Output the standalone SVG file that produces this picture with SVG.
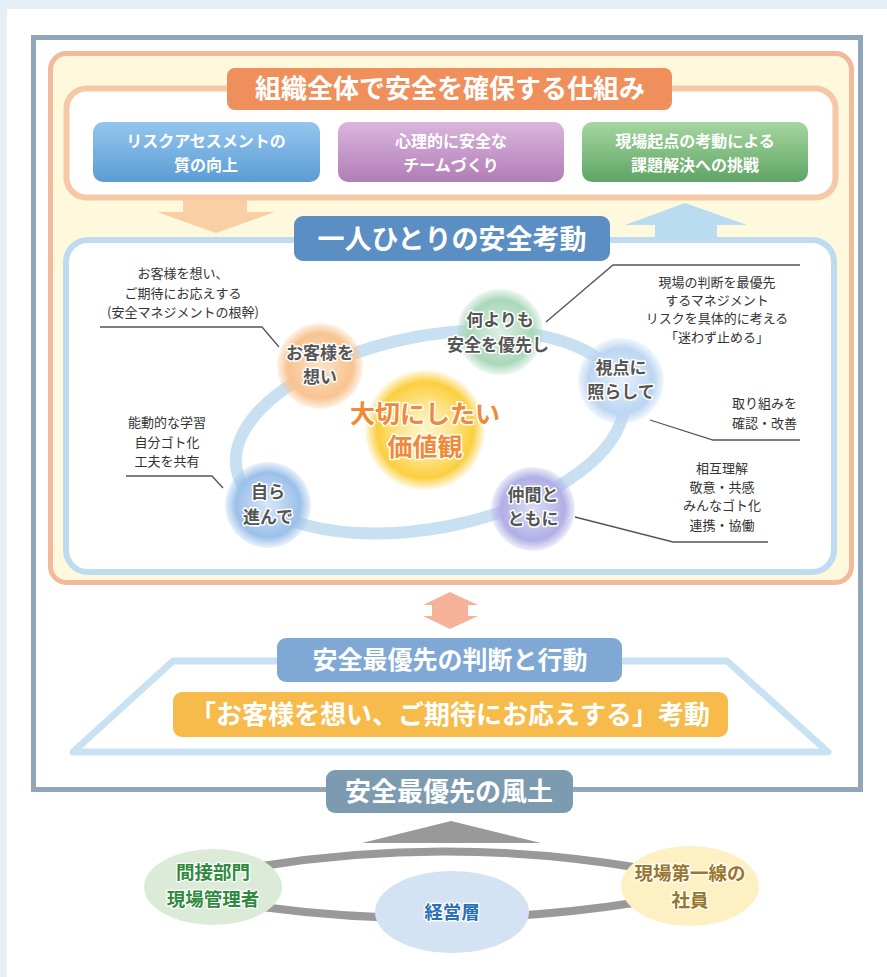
<svg xmlns="http://www.w3.org/2000/svg" width="887" height="977" viewBox="0 0 887 977">
<style>
text{font-family:"Noto Sans CJK JP","Noto Sans",sans-serif;text-anchor:middle}
.ttl{fill:#fff;font-size:26px;font-weight:bold}
.box{fill:#fff;font-size:16px;font-weight:bold}
.note{fill:#333;font-size:13px}
.cn{fill:#555;font-size:17px;font-weight:bold;stroke:#fff;stroke-width:3;paint-order:stroke;stroke-linejoin:round}
.lead{fill:none;stroke:#555;stroke-width:1.3}
.ov{font-size:18.5px;font-weight:bold;stroke:#fff;stroke-width:2.5;paint-order:stroke;stroke-linejoin:round}
</style>
<defs>
<linearGradient id="gB" x1="0" y1="0" x2="0" y2="1"><stop offset="0" stop-color="#93c6ee"/><stop offset="1" stop-color="#5c9cd4"/></linearGradient>
<linearGradient id="gP" x1="0" y1="0" x2="0" y2="1"><stop offset="0" stop-color="#dab6dc"/><stop offset="1" stop-color="#b17db7"/></linearGradient>
<linearGradient id="gG" x1="0" y1="0" x2="0" y2="1"><stop offset="0" stop-color="#a6d6a0"/><stop offset="1" stop-color="#5ea564"/></linearGradient>
<radialGradient id="cO"><stop offset="0" stop-color="#fde3c6"/><stop offset="0.75" stop-color="#f8c390"/><stop offset="1" stop-color="#f8c390" stop-opacity="0.2"/></radialGradient>
<radialGradient id="cG"><stop offset="0" stop-color="#dcf0e2"/><stop offset="0.75" stop-color="#aad8ba"/><stop offset="1" stop-color="#aad8ba" stop-opacity="0.2"/></radialGradient>
<radialGradient id="cL"><stop offset="0" stop-color="#e6f0fb"/><stop offset="0.75" stop-color="#bcd6f2"/><stop offset="1" stop-color="#bcd6f2" stop-opacity="0.2"/></radialGradient>
<radialGradient id="cV"><stop offset="0" stop-color="#dcdcf6"/><stop offset="0.75" stop-color="#b1afe6"/><stop offset="1" stop-color="#b1afe6" stop-opacity="0.2"/></radialGradient>
<radialGradient id="cBl"><stop offset="0" stop-color="#d6e6f8"/><stop offset="0.75" stop-color="#9cc0ea"/><stop offset="1" stop-color="#9cc0ea" stop-opacity="0.2"/></radialGradient>
<radialGradient id="cY"><stop offset="0" stop-color="#fff6cf"/><stop offset="0.45" stop-color="#fde48a"/><stop offset="0.8" stop-color="#fbcf3e"/><stop offset="1" stop-color="#fbcf3e" stop-opacity="0.1"/></radialGradient>
</defs>
<rect x="0" y="0" width="887" height="977" fill="#e6eef7"/>
<rect x="7" y="9" width="880" height="968" fill="#fff"/>
<rect x="33.5" y="37.5" width="827" height="752" fill="#fff" stroke="#8fa7b8" stroke-width="5"/>
<rect x="50.5" y="53.5" width="801" height="529" rx="16" fill="#fef8dd" stroke="#f3b99b" stroke-width="5"/>

<g id="connectors">
<polygon points="183,196 247,196 247,212 275,212 216,233 157,212 183,212" fill="#f9cfa4"/>
<polygon points="685,203 747,225 717,225 717,240 655,240 655,225 625,225" fill="#b9dcf0"/>
<polygon points="450,592 478,605 468,605 468,616 478,616 450,629 423,616 432,616 432,605 423,605" fill="#f5b298"/>
<polygon points="451,821 541,843 362,843" fill="#999"/>
<path d="M262,866 Q450,836 640,868" fill="none" stroke="#999" stroke-width="8"/>
<path d="M262,907 Q450,932 640,902" fill="none" stroke="#999" stroke-width="8"/>
</g>

<g id="top-frame">
<rect x="66.5" y="88.5" width="769" height="109" rx="20" fill="#fff" stroke="#f6c8a6" stroke-width="6"/>
</g>
<g id="title-org">
<rect x="227" y="68" width="445" height="42" rx="8" fill="#ef8f5c"/>
<text class="ttl" x="450" y="98">組織全体で安全を確保する仕組み</text>
</g>
<g id="box-risk">
<rect x="93" y="122" width="227" height="60" rx="10" fill="url(#gB)"/>
<text class="box" x="206" y="147">リスクアセスメントの</text>
<text class="box" x="206" y="171">質の向上</text>
</g>
<g id="box-team">
<rect x="338" y="122" width="226" height="60" rx="10" fill="url(#gP)"/>
<text class="box" x="451" y="147">心理的に安全な</text>
<text class="box" x="451" y="171">チームづくり</text>
</g>
<g id="box-field">
<rect x="582" y="122" width="226" height="60" rx="10" fill="url(#gG)"/>
<text class="box" x="695" y="147">現場起点の考動による</text>
<text class="box" x="695" y="171">課題解決への挑戦</text>
</g>

<g id="individual-frame">
<rect x="66" y="240" width="768" height="332" rx="22" fill="#fff" stroke="#bddcef" stroke-width="6"/>
</g>
<g id="title-individual">
<rect x="294" y="216" width="316" height="45" rx="9" fill="#5b8ec2"/>
<text class="ttl" x="452" y="249" style="font-size:27px">一人ひとりの安全考動</text>
</g>

<g id="ring">
<ellipse cx="430" cy="432" rx="197" ry="96" transform="rotate(-11 430 432)" fill="none" stroke="#c8e0f1" stroke-width="12"/>
</g>

<g id="leaders">
<polyline class="lead" points="100,327 262,327 279,347"/>
<polyline class="lead" points="126,476 212,476 223,488"/>
<polyline class="lead" points="800,265 613,265 546,322"/>
<polyline class="lead" points="650,420 713,440 800,440"/>
<polyline class="lead" points="575,517 673,542 768,542"/>
</g>

<g id="note-customer">
<text class="note" x="183" y="278">お客様を想い、</text>
<text class="note" x="183" y="298">ご期待にお応えする</text>
<text class="note" x="183" y="317">(安全マネジメントの根幹)</text>
</g>
<g id="note-self">
<text class="note" x="167" y="427">能動的な学習</text>
<text class="note" x="167" y="447">自分ゴト化</text>
<text class="note" x="167" y="466">工夫を共有</text>
</g>
<g id="note-safety">
<text class="note" x="717" y="287">現場の判断を最優先</text>
<text class="note" x="717" y="305">するマネジメント</text>
<text class="note" x="717" y="323">リスクを具体的に考える</text>
<text class="note" x="717" y="342">「迷わず止める」</text>
</g>
<g id="note-view">
<text class="note" x="797" y="408" style="text-anchor:end">取り組みを</text>
<text class="note" x="797" y="428" style="text-anchor:end">確認・改善</text>
</g>
<g id="note-peer">
<text class="note" x="722" y="473">相互理解</text>
<text class="note" x="722" y="492">敬意・共感</text>
<text class="note" x="722" y="510">みんなゴト化</text>
<text class="note" x="722" y="530">連携・協働</text>
</g>

<g id="values">
<circle cx="425" cy="430" r="60" fill="url(#cY)"/>
<text x="425" y="423" style="font-size:25px;font-weight:bold;fill:#f08a38;stroke:#fff;stroke-width:3;paint-order:stroke;stroke-linejoin:round">大切にしたい</text>
<text x="425" y="456" style="font-size:25px;font-weight:bold;fill:#f08a38;stroke:#fff;stroke-width:3;paint-order:stroke;stroke-linejoin:round">価値観</text>
</g>
<g id="node-customer">
<circle cx="320" cy="366" r="43" fill="url(#cO)"/>
<text class="cn" x="320" y="359">お客様を</text>
<text class="cn" x="320" y="383">想い</text>
</g>
<g id="node-safety">
<circle cx="500" cy="332" r="43" fill="url(#cG)"/>
<text class="cn" x="500" y="326">何よりも</text>
<text class="cn" x="498" y="351">安全を優先し</text>
</g>
<g id="node-view">
<circle cx="621" cy="381" r="43" fill="url(#cL)"/>
<text class="cn" x="621" y="374">視点に</text>
<text class="cn" x="621" y="398">照らして</text>
</g>
<g id="node-peer">
<circle cx="533" cy="509" r="42" fill="url(#cV)"/>
<text class="cn" x="533" y="501">仲間と</text>
<text class="cn" x="533" y="525">ともに</text>
</g>
<g id="node-self">
<circle cx="268" cy="505" r="43" fill="url(#cBl)"/>
<text class="cn" x="268" y="498">自ら</text>
<text class="cn" x="268" y="523">進んで</text>
</g>

<g id="action-frame">
<polygon points="173,661 727,661 828,752 73,752" fill="#fff" stroke="#c9e2f3" stroke-width="7" stroke-linejoin="round"/>
</g>
<g id="title-action">
<rect x="277" y="638" width="345" height="44" rx="9" fill="#7fa8d4"/>
<text class="ttl" x="450" y="669" style="font-size:25px">安全最優先の判断と行動</text>
</g>
<g id="title-behavior">
<rect x="173" y="692" width="555" height="45" rx="9" fill="#f6bb4a"/>
<text class="ttl" x="450" y="724">「お客様を想い、ご期待にお応えする」考動</text>
</g>
<g id="title-culture">
<rect x="326" y="770" width="247" height="43" rx="9" fill="#7c9bb0"/>
<text class="ttl" x="449" y="801">安全最優先の風土</text>
</g>

<g id="oval-indirect">
<ellipse cx="213" cy="887" rx="69" ry="38" fill="#dcebd8"/>
<text class="ov" x="213" y="879" style="fill:#2e8b3e">間接部門</text>
<text class="ov" x="213" y="906" style="fill:#2e8b3e">現場管理者</text>
</g>
<g id="oval-management">
<ellipse cx="452" cy="912" rx="77" ry="41" fill="#d3e3f3"/>
<text class="ov" x="452" y="919" style="fill:#2a6fb5">経営層</text>
</g>
<g id="oval-frontline">
<ellipse cx="690" cy="886" rx="69" ry="40" fill="#fdf1c4"/>
<text class="ov" x="690" y="880" style="fill:#98762a">現場第一線の</text>
<text class="ov" x="690" y="907" style="fill:#98762a">社員</text>
</g>
</svg>
